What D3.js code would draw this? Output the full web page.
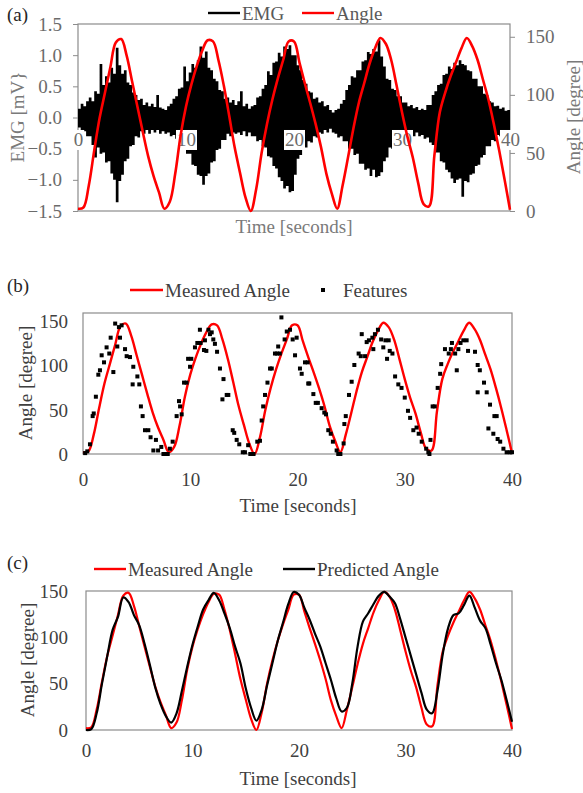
<!DOCTYPE html>
<html>
<head>
<meta charset="utf-8">
<script src="https://cdn.jsdelivr.net/npm/d3@7/dist/d3.min.js"></script>
<style>
  body { margin: 0; background: #fff; }
  svg { display: block; }
  text { font-family: "Liberation Serif", "Times New Roman", serif; }
</style>
</head>
<body>
<svg id="fig" width="583" height="793"></svg>
<script>
// ---------- data ----------
// EMG envelope, one bin every 0.25 s from 0 to 40 s (mV)
const emgStep = 0.25;
const emgUpper = [
  0.14,0.22,0.18,0.26,0.32,0.26,0.42,0.38,0.86,0.52,0.66,0.56,0.80,0.70,1.12,0.84,
  0.70,0.76,0.56,0.52,0.40,0.36,0.28,0.30,0.20,0.24,0.18,0.22,0.17,0.36,0.16,0.14,
  0.12,0.18,0.22,0.30,0.34,0.46,0.48,0.82,0.58,0.72,0.86,0.80,0.92,1.14,0.96,1.06,
  0.80,0.76,0.62,0.58,0.44,0.42,0.30,0.32,0.24,0.28,0.20,0.26,0.42,0.18,0.22,0.14,
  0.18,0.20,0.32,0.34,0.46,0.52,0.74,0.68,0.88,0.90,1.04,0.98,1.14,1.10,1.16,1.00,
  1.00,0.84,0.76,0.60,0.54,0.42,0.40,0.30,0.32,0.24,0.26,0.18,0.20,0.12,0.08,0.12,
  0.14,0.22,0.28,0.44,0.52,0.66,0.64,0.76,0.76,0.90,0.92,1.05,1.02,1.10,1.06,1.24,
  0.98,0.82,0.62,0.60,0.46,0.44,0.34,0.34,0.24,0.24,0.18,0.20,0.15,0.17,0.12,0.14,
  0.12,0.20,0.20,0.36,0.42,0.52,0.54,0.68,0.70,0.82,0.78,0.88,0.84,0.92,0.86,0.84,
  0.76,0.74,0.62,0.62,0.50,0.50,0.38,0.36,0.26,0.24,0.18,0.19,0.14,0.16,0.11,0.12
];
const emgLower = [
  -0.16,-0.24,-0.22,-0.30,-0.30,-0.44,-0.64,-0.48,-0.58,-0.56,-0.72,-0.70,-0.90,-1.00,-1.36,-1.02,
  -0.92,-0.70,-0.66,-0.46,-0.44,-0.30,-0.32,-0.22,-0.26,-0.20,-0.26,-0.20,-0.24,-0.20,-0.26,-0.22,
  -0.26,-0.24,-0.30,-0.28,-0.34,-0.36,-0.46,-0.46,-0.58,-0.58,-0.76,-0.78,-0.92,-0.94,-1.08,-0.94,
  -0.90,-0.72,-0.70,-0.52,-0.50,-0.36,-0.36,-0.26,-0.30,-0.24,-0.26,-0.24,-0.28,-0.22,-0.30,-0.24,
  -0.30,-0.30,-0.38,-0.36,-0.46,-0.48,-0.62,-0.64,-0.78,-0.82,-0.96,-1.02,-1.14,-1.10,-1.20,-1.18,
  -0.92,-0.66,-0.60,-0.48,-0.48,-0.38,-0.40,-0.30,-0.32,-0.24,-0.26,-0.20,-0.24,-0.18,-0.24,-0.26,
  -0.32,-0.30,-0.38,-0.38,-0.50,-0.50,-0.60,-0.58,-0.74,-0.74,-0.84,-0.82,-0.94,-0.84,-0.96,-0.94,
  -0.88,-0.70,-0.64,-0.48,-0.50,-0.38,-0.40,-0.30,-0.32,-0.26,-0.30,-0.24,-0.30,-0.24,-0.30,-0.28,
  -0.34,-0.32,-0.40,-0.44,-0.56,-0.56,-0.70,-0.72,-0.84,-0.88,-0.98,-1.05,-1.00,-0.98,-1.27,-1.02,
  -1.04,-0.92,-0.90,-0.78,-0.76,-0.64,-0.60,-0.46,-0.46,-0.36,-0.38,-0.28,-0.30,-0.26,-0.28,-0.24
];

// Joint angle, one sample every 0.5 s from 0 to 40 s (degree)
const angleStep = 0.5;
const measuredAngle = [
  2, 3, 22, 52, 80, 102, 124, 145, 148, 134, 112, 90, 68, 47, 30, 16,
  2, 8, 32, 65, 90, 109, 125, 138, 147, 146, 130, 108, 82, 55, 33, 12,
  0, 19, 50, 75, 96, 114, 130, 146, 146, 128, 110, 93, 75, 55, 32, 15,
  2, 22, 46, 71, 93, 110, 127, 140, 149, 144, 130, 108, 85, 64, 46, 24,
  6, 4, 48, 85, 102, 116, 128, 140, 149, 142, 130, 113, 96, 75, 52, 27,
  1
];
const predictedAngle = [
  0, 1, 18, 50, 80, 108, 122, 143, 138, 124, 113, 93, 70, 46, 28, 15,
  8, 18, 42, 68, 92, 112, 130, 140, 148, 140, 126, 110, 90, 72, 45, 24,
  10, 22, 48, 72, 96, 116, 136, 149, 146, 132, 119, 104, 90, 72, 54, 34,
  20, 24, 50, 90, 117, 126, 136, 145, 149, 144, 137, 120, 100, 80, 60, 40,
  22, 18, 42, 82, 110, 124, 126, 135, 145, 132, 118, 110, 92, 72, 54, 32,
  9
];

// Extracted feature points (time in s, angle in degree)
const featureTime = [
  0.2,0.4,0.65,0.9,1.0,1.2,1.43,1.58,1.74,1.96,2.2,2.45,2.58,2.83,3.0,3.2,3.35,3.45,3.6,3.92,4.07,4.38,4.63,4.69,5.07,5.25,5.4,5.56,5.78,6.09,6.3,6.56,6.8,7.0,7.3,7.5,7.7,7.9,8.1,
  8.36,8.73,8.95,9.05,9.2,9.42,9.66,9.8,9.98,10.1,10.44,10.66,10.9,10.97,11.28,11.37,11.5,11.7,11.84,12.0,12.15,12.3,12.5,12.77,13.0,13.1,13.4,13.55,13.96,14.1,14.33,14.57,14.9,15.1,15.4,15.6,15.75,15.9,
  16.25,16.5,16.66,16.8,16.97,17.2,17.44,17.6,17.9,18.1,18.2,18.35,18.5,18.8,19.0,19.3,19.55,19.77,19.92,20.23,20.39,20.7,20.95,21.0,21.1,21.48,21.7,21.9,22.25,22.5,22.66,22.87,23.1,23.3,23.65,23.8,24.0,
  24.3,24.37,24.5,24.8,25.05,25.3,25.7,25.9,25.99,26.3,26.45,26.66,26.98,27.07,27.22,27.5,27.8,28.0,28.2,28.35,28.5,28.6,28.85,29.1,29.4,29.7,30.0,30.3,30.5,30.8,31.1,31.3,31.58,32.0,32.2,32.3,
  32.4,32.6,32.8,33.07,33.3,33.4,33.75,34.1,34.3,34.4,34.7,34.85,35.0,35.2,35.46,35.77,35.9,36.55,36.8,36.8,37.0,37.39,37.64,37.8,37.95,38.26,38.36,38.57,38.66,38.9,39.2,39.5,39.8,40.0
];
const featureAngle = [
  1,3,11,43,46,65,90,95,112,104,121,114,132,93,148,122,144,132,146,119,111,110,79,99,88,79,54,43,27,27,19,4,16,4,8,0,0,0,6,
  14,43,60,54,45,81,81,108,99,108,121,126,141,126,118,129,117,141,136,138,130,125,116,97,62,85,67,67,27,24,16,11,2,2,10,0,0,0,
  14,15,38,54,67,81,97,97,114,114,122,114,155,130,139,141,130,112,132,97,91,104,104,80,80,68,58,58,52,47,45,27,23,14,4,0,0,
  12,34,43,67,82,101,114,111,136,111,127,129,132,119,136,141,130,121,129,108,129,117,114,88,79,75,64,49,41,27,30,23,14,6,2,0,
  16,54,54,75,91,102,119,114,119,126,114,95,119,126,129,129,117,116,101,70,95,81,70,29,56,23,43,43,17,14,6,2,2,2
];

// Axis tick values
const timeTicks = [0, 10, 20, 30, 40];
const emgTicks = [-1.5, -1.0, -0.5, 0.0, 0.5, 1.0, 1.5];
const angleTicks = [0, 50, 100, 150];

// ---------- helpers ----------
const svg = d3.select("#fig");
const RED = "#ff0000";
const AXIS = "#8c8c8c";
const FONT = 19;

const angleSeries = arr => arr.map((v, i) => ({ t: i * angleStep, v }));
const emgSeries = emgUpper.map((u, i) => ({ t: i * emgStep, u, l: emgLower[i] }));
emgSeries.push({ t: 40, u: emgUpper[emgUpper.length - 1], l: emgLower[emgLower.length - 1] });

function styleAxis(g, color, size) {
  g.select(".domain").remove();
  g.selectAll(".tick line").attr("stroke", AXIS);
  g.selectAll(".tick text")
    .attr("fill", color)
    .style("font-size", size + "px")
    .style("font-family", '"Liberation Serif","Times New Roman",serif');
}

function panelLabel(txt, y) {
  svg.append("text").attr("x", 7).attr("y", y).attr("dy", "0.35em")
    .attr("fill", "#262626").style("font-size", FONT + "px").text(txt);
}

function vTitle(txt, cx, cy, color) {
  svg.append("text")
    .attr("transform", `translate(${cx},${cy}) rotate(-90)`)
    .attr("text-anchor", "middle").attr("dy", "0.35em")
    .attr("fill", color).style("font-size", FONT + "px").text(txt);
}

function hTitle(txt, cx, cy, color) {
  svg.append("text").attr("x", cx).attr("y", cy).attr("dy", "0.35em")
    .attr("text-anchor", "middle").attr("fill", color)
    .style("font-size", FONT + "px").text(txt);
}

function legendLine(x0, x1, y, color, width, label, textColor) {
  svg.append("line").attr("x1", x0).attr("x2", x1).attr("y1", y).attr("y2", y)
    .attr("stroke", color).attr("stroke-width", width);
  svg.append("text").attr("x", x1 + 2).attr("y", y).attr("dy", "0.35em")
    .attr("fill", textColor).style("font-size", FONT + "px").text(label);
}

// ---------- panel (a): EMG and angle ----------
{
  const L = 78, R = 510, T = 24, B = 211;
  const x = d3.scaleLinear().domain([0, 40]).range([L, R]);
  const yE = d3.scaleLinear().domain([-1.5, 1.5]).range([B, T]);
  const yA = d3.scaleLinear().domain([0, 161]).range([B, T]);
  const txtCol = "#6b6b6b";

  svg.append("rect").attr("x", L).attr("y", T).attr("width", R - L).attr("height", B - T)
    .attr("fill", "none").attr("stroke", AXIS).attr("stroke-width", 1.2);

  // horizontal axis line through zero
  svg.append("line").attr("x1", L).attr("x2", R).attr("y1", yE(0)).attr("y2", yE(0))
    .attr("stroke", AXIS);

  const gl = svg.append("g").attr("transform", `translate(${L},0)`)
    .call(d3.axisLeft(yE).tickValues(emgTicks).tickSize(5).tickPadding(11).tickFormat(d3.format(".1f")));
  styleAxis(gl, txtCol, FONT);

  const gr = svg.append("g").attr("transform", `translate(${R},0)`)
    .call(d3.axisRight(yA).tickValues(angleTicks).tickSize(5).tickPadding(11));
  styleAxis(gr, txtCol, FONT);

  // EMG envelope
  svg.append("path").datum(emgSeries)
    .attr("d", d3.area().x(d => x(d.t)).y0(d => yE(d.l)).y1(d => yE(d.u)).curve(d3.curveStepAfter))
    .attr("fill", "#000");

  // time labels on the zero line, boxed in white
  const gx = svg.append("g").attr("transform", `translate(0,${yE(0)})`)
    .call(d3.axisBottom(x).tickValues(timeTicks).tickSize(0).tickPadding(15));
  styleAxis(gx, txtCol, FONT);
  gx.selectAll(".tick").each(function () {
    const t = d3.select(this).select("text");
    const bb = t.node().getBBox();
    d3.select(this).insert("rect", "text")
      .attr("x", bb.x - 1).attr("y", bb.y + 1).attr("width", bb.width + 2).attr("height", bb.height - 1)
      .attr("fill", "#fff");
  });

  // angle
  svg.append("path").datum(angleSeries(measuredAngle))
    .attr("d", d3.line().x(d => x(d.t)).y(d => yA(d.v)).curve(d3.curveCatmullRom))
    .attr("fill", "none").attr("stroke", RED).attr("stroke-width", 2.6);

  vTitle("EMG [mV}", 17.5, 117, "#7a7a7a");
  vTitle("Angle [degree]", 573.5, 117, "#7a7a7a");
  hTitle("Time [seconds]", 294, 226, "#7a7a7a");

  legendLine(208, 240, 13, "#000", 2.4, "EMG", "#595959");
  legendLine(302, 334, 13, RED, 2.4, "Angle", "#595959");
  panelLabel("(a)", 14);
}

// ---------- panel (b): measured angle and features ----------
{
  const L = 83, R = 512, T = 313, B = 454;
  const x = d3.scaleLinear().domain([0, 40]).range([L, R]);
  const y = d3.scaleLinear().domain([0, 160]).range([B, T]);
  const txtCol = "#404040";

  svg.append("rect").attr("x", L).attr("y", T).attr("width", R - L).attr("height", B - T)
    .attr("fill", "none").attr("stroke", AXIS).attr("stroke-width", 1.2);

  const gl = svg.append("g").attr("transform", `translate(${L},0)`)
    .call(d3.axisLeft(y).tickValues(angleTicks).tickSize(0).tickPadding(15));
  styleAxis(gl, txtCol, FONT);
  const gx = svg.append("g").attr("transform", `translate(0,${B})`)
    .call(d3.axisBottom(x).tickValues(timeTicks).tickSize(0).tickPadding(19));
  styleAxis(gx, txtCol, FONT);

  svg.append("path").datum(angleSeries(measuredAngle))
    .attr("d", d3.line().x(d => x(d.t)).y(d => y(d.v)).curve(d3.curveCatmullRom))
    .attr("fill", "none").attr("stroke", RED).attr("stroke-width", 2.4);

  const pts = featureTime.map((t, i) => ({ t, v: featureAngle[i] }));
  svg.append("g").selectAll("rect").data(pts).join("rect")
    .attr("x", d => x(d.t) - 2).attr("y", d => y(d.v) - 2)
    .attr("width", 4).attr("height", 4).attr("fill", "#000");

  vTitle("Angle [degree]", 25.5, 383, txtCol);
  hTitle("Time [seconds]", 298, 505, txtCol);

  legendLine(130, 163, 290, RED, 2.4, "Measured Angle", txtCol);
  svg.append("rect").attr("x", 321).attr("y", 288).attr("width", 4).attr("height", 4).attr("fill", "#000");
  svg.append("text").attr("x", 343).attr("y", 290).attr("dy", "0.35em")
    .attr("fill", txtCol).style("font-size", FONT + "px").text("Features");
  panelLabel("(b)", 285);
}

// ---------- panel (c): measured vs predicted angle ----------
{
  const L = 86, R = 512, T = 591, B = 730;
  const x = d3.scaleLinear().domain([0, 40]).range([L, R]);
  const y = d3.scaleLinear().domain([0, 150]).range([B, T]);
  const txtCol = "#404040";

  svg.append("rect").attr("x", L).attr("y", T).attr("width", R - L).attr("height", B - T)
    .attr("fill", "none").attr("stroke", AXIS).attr("stroke-width", 1.2);

  const gl = svg.append("g").attr("transform", `translate(${L},0)`)
    .call(d3.axisLeft(y).tickValues(angleTicks).tickSize(0).tickPadding(18));
  styleAxis(gl, txtCol, FONT);
  const gx = svg.append("g").attr("transform", `translate(0,${B})`)
    .call(d3.axisBottom(x).tickValues(timeTicks).tickSize(0).tickPadding(14));
  styleAxis(gx, txtCol, FONT);

  const line = d3.line().x(d => x(d.t)).y(d => y(d.v)).curve(d3.curveCatmullRom);
  svg.append("path").datum(angleSeries(measuredAngle)).attr("d", line)
    .attr("fill", "none").attr("stroke", RED).attr("stroke-width", 2.2);
  svg.append("path").datum(angleSeries(predictedAngle)).attr("d", line)
    .attr("fill", "none").attr("stroke", "#000").attr("stroke-width", 2.2);

  vTitle("Angle [degree]", 27.5, 660, txtCol);
  hTitle("Time [seconds]", 298, 778, txtCol);

  legendLine(94, 126, 569, RED, 2.4, "Measured Angle", txtCol);
  legendLine(283, 315, 569, "#000", 2.4, "Predicted Angle", txtCol);
  panelLabel("(c)", 562);
}
</script>
</body>
</html>
